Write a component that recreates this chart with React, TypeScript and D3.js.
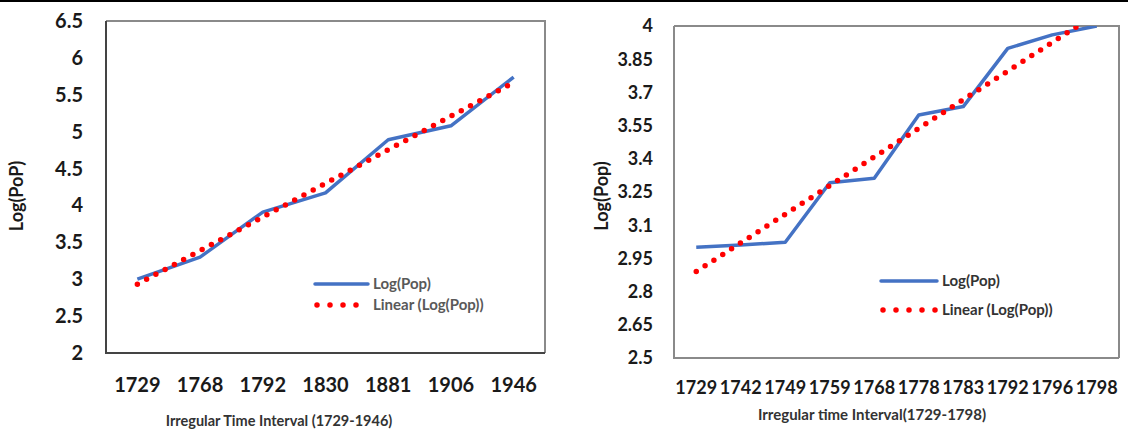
import React, { useEffect, useRef } from 'react';
import * as d3 from 'd3';

// left chart
const yearsA = ['1729', '1768', '1792', '1830', '1881', '1906', '1946'];
const logPopA = [3.0, 3.3, 3.91, 4.17, 4.89, 5.08, 5.74];
const ticksA = [2, 2.5, 3, 3.5, 4, 4.5, 5, 5.5, 6, 6.5];

// right chart
const yearsB = ['1729', '1742', '1749', '1759', '1768', '1778', '1783', '1792', '1796', '1798'];
const logPopB = [3.0, 3.01, 3.023, 3.292, 3.312, 3.598, 3.636, 3.899, 3.96, 4.0];
const ticksB = [2.5, 2.65, 2.8, 2.95, 3.1, 3.25, 3.4, 3.55, 3.7, 3.85, 4];

const BLUE = '#4472C4';
const RED = '#FF0000';
const FONT = "Lato, 'Open Sans', sans-serif";

interface PanelCfg {
  id: string;
  years: string[];
  values: number[];
  ticks: number[];
  box: { x0: number; x1: number; y0: number; y1: number };
  edgeLeft: string;
  edgeTop: string;
  tickSize: number;
  tickRight: number;
  xLabelY: number;
  yTitle: string;
  yTitlePos: [number, number];
  xTitle: string;
  xTitlePos: [number, number];
  xTitleSize: number;
  legend: { x0: number; x1: number; y1: number; y2: number; color: string };
}

function linearFit(values: number[]) {
  const n = values.length;
  const xm = (n - 1) / 2;
  const ym = d3.mean(values) as number;
  let num = 0;
  let den = 0;
  values.forEach((v, i) => {
    num += (i - xm) * (v - ym);
    den += (i - xm) * (i - xm);
  });
  const slope = num / den;
  const b = ym - slope * xm;
  return values.map((_, i) => b + slope * i);
}

function drawPanel(svg: d3.Selection<SVGSVGElement, unknown, null, undefined>, c: PanelCfg) {
  const { box } = c;
  const x = d3.scaleBand<string>().domain(c.years).range([box.x0, box.x1]);
  const y = d3.scaleLinear().domain([c.ticks[0], c.ticks[c.ticks.length - 1]]).range([box.y1, box.y0]);
  const cx = (d: string) => (x(d) as number) + x.bandwidth() / 2;

  svg.append('clipPath').attr('id', c.id)
    .append('rect')
    .attr('x', box.x0).attr('y', box.y0)
    .attr('width', box.x1 - box.x0).attr('height', box.y1 - box.y0);

  const g = svg.append('g');

  // frame
  g.append('path')
    .attr('d', `M${box.x0},${box.y0}H${box.x1}V${box.y1}`)
    .attr('fill', 'none').attr('stroke', c.edgeTop).attr('stroke-width', 2);
  g.append('path')
    .attr('d', `M${box.x0},${box.y0}V${box.y1}H${box.x1}`)
    .attr('fill', 'none').attr('stroke', c.edgeLeft).attr('stroke-width', 2);

  // y tick labels
  g.selectAll('.yt').data(c.ticks).enter().append('text')
    .attr('x', c.tickRight).attr('y', d => y(d))
    .attr('dy', '0.35em')
    .attr('text-anchor', 'end')
    .attr('font-family', FONT).attr('font-weight', 700)
    .attr('font-size', c.tickSize).attr('fill', '#1a1a1a')
    .text(d => String(d));

  // x tick labels
  g.selectAll('.xt').data(c.years).enter().append('text')
    .attr('x', d => cx(d)).attr('y', c.xLabelY)
    .attr('dy', '0.35em')
    .attr('text-anchor', 'middle')
    .attr('font-family', FONT).attr('font-weight', 700)
    .attr('font-size', c.tickSize).attr('fill', '#1a1a1a')
    .text(d => d);

  // axis titles
  g.append('text')
    .attr('transform', `translate(${c.yTitlePos[0]},${c.yTitlePos[1]}) rotate(-90)`)
    .attr('dy', '0.35em')
    .attr('text-anchor', 'middle')
    .attr('font-family', FONT).attr('font-weight', 700)
    .attr('font-size', 18).attr('fill', '#1a1a1a')
    .text(c.yTitle);
  g.append('text')
    .attr('x', c.xTitlePos[0]).attr('y', c.xTitlePos[1])
    .attr('dy', '0.35em')
    .attr('text-anchor', 'middle')
    .attr('font-family', FONT).attr('font-weight', 700)
    .attr('font-size', c.xTitleSize).attr('fill', '#333')
    .text(c.xTitle);

  const line = d3.line<number>()
    .x((_, i) => cx(c.years[i]))
    .y(d => y(d));

  const plot = g.append('g').attr('clip-path', `url(#${c.id})`);

  plot.append('path')
    .datum(c.values)
    .attr('d', line)
    .attr('fill', 'none')
    .attr('stroke', BLUE)
    .attr('stroke-width', 3.5)
    .attr('stroke-linejoin', 'round');

  plot.append('path')
    .datum(linearFit(c.values))
    .attr('d', line)
    .attr('fill', 'none')
    .attr('stroke', RED)
    .attr('stroke-width', 5.5)
    .attr('stroke-linecap', 'round')
    .attr('stroke-dasharray', '0 10.5');

  // legend
  const L = c.legend;
  g.append('line')
    .attr('x1', L.x0).attr('x2', L.x1).attr('y1', L.y1).attr('y2', L.y1)
    .attr('stroke', BLUE).attr('stroke-width', 3.5).attr('stroke-linecap', 'round');
  g.append('line')
    .attr('x1', L.x0 + 2).attr('x2', L.x1).attr('y1', L.y2).attr('y2', L.y2)
    .attr('stroke', RED).attr('stroke-width', 5.5).attr('stroke-linecap', 'round')
    .attr('stroke-dasharray', '0 13');
  g.append('text')
    .attr('x', L.x1 + 5).attr('y', L.y1).attr('dy', '0.35em')
    .attr('font-family', FONT).attr('font-weight', 700)
    .attr('font-size', 15).attr('fill', L.color)
    .text('Log(Pop)');
  g.append('text')
    .attr('x', L.x1 + 5).attr('y', L.y2).attr('dy', '0.35em')
    .attr('font-family', FONT).attr('font-weight', 700)
    .attr('font-size', 15).attr('fill', L.color)
    .text('Linear (Log(Pop))');
}

const App: React.FC = () => {
  const svgRef = useRef<SVGSVGElement>(null);

  useEffect(() => {
    if (!svgRef.current) return;
    const svg = d3.select(svgRef.current);
    svg.selectAll('*').remove();

    svg.append('rect').attr('width', 1128).attr('height', 433).attr('fill', '#fff');
    svg.append('line')
      .attr('x1', 0).attr('x2', 1128).attr('y1', 1).attr('y2', 1)
      .attr('stroke', '#000').attr('stroke-width', 2);

    drawPanel(svg, {
      id: 'clipA',
      years: yearsA,
      values: logPopA,
      ticks: ticksA,
      box: { x0: 106, x1: 545, y0: 21, y1: 353 },
      edgeLeft: '#444',
      edgeTop: '#8a8a8a',
      tickSize: 20,
      tickRight: 83,
      xLabelY: 385,
      yTitle: 'Log(PoP)',
      yTitlePos: [17, 196],
      xTitle: 'Irregular Time Interval (1729-1946)',
      xTitlePos: [279, 421],
      xTitleSize: 14.5,
      legend: { x0: 315, x1: 368, y1: 284, y2: 305, color: '#595959' },
    });

    drawPanel(svg, {
      id: 'clipB',
      years: yearsB,
      values: logPopB,
      ticks: ticksB,
      box: { x0: 674, x1: 1119, y0: 26, y1: 358 },
      edgeLeft: '#8a8a8a',
      edgeTop: '#8a8a8a',
      tickSize: 18,
      tickRight: 653,
      xLabelY: 388,
      yTitle: 'Log(Pop)',
      yTitlePos: [602, 196],
      xTitle: 'Irregular time Interval(1729-1798)',
      xTitlePos: [872, 415],
      xTitleSize: 15,
      legend: { x0: 881, x1: 937, y1: 281, y2: 310, color: '#333' },
    });
  }, []);

  return (
    <svg
      ref={svgRef}
      width={1128}
      height={433}
      style={{ position: 'absolute', left: 0, top: 0, display: 'block' }}
    />
  );
};

export default App;
